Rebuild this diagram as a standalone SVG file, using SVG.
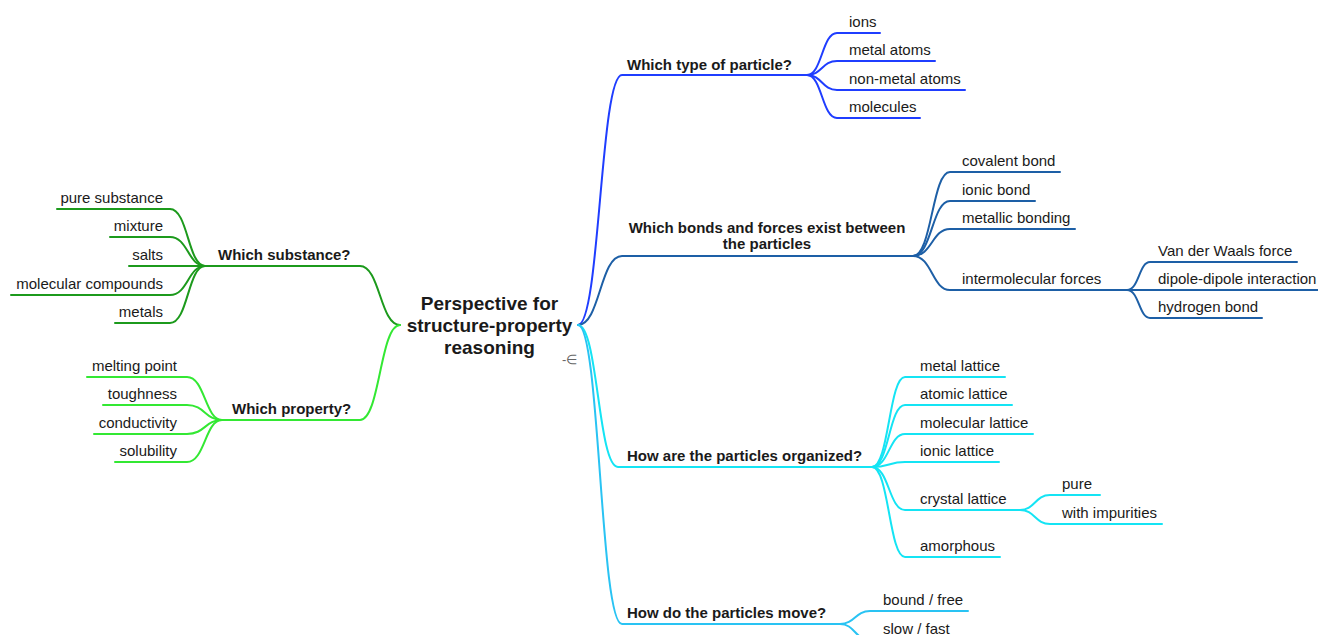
<svg xmlns="http://www.w3.org/2000/svg" width="1318" height="635" viewBox="0 0 1318 635">
<style>
.c{fill:none;stroke-width:2;stroke-linecap:round}
.t{stroke:#1f3dff}.b{stroke:#1d5fa6}.l{stroke:#14e4f4}.m{stroke:#29c3f3}.s{stroke:#1c9a1c}.p{stroke:#33e833}
text{font-family:"Liberation Sans",Arial,sans-serif;fill:#1a1a1a;font-size:15px}
.h{font-weight:bold}
.r{font-weight:bold;font-size:19px;text-anchor:middle}
.e{text-anchor:end}
</style>
<rect width="1318" height="635" fill="#ffffff"/>
<g id="connectors">
<path class="c t" d="M578,325 C600,325 600,75 622,75 H807"/>
<path class="c t" d="M807,75 C822,75 822,33 837,33 H880"/>
<path class="c t" d="M807,75 C822,75 822,61 837,61 H935"/>
<path class="c t" d="M807,75 C822,75 822,90 837,90 H965"/>
<path class="c t" d="M807,75 C822,75 822,118 837,118 H920"/>
<path class="c b" d="M578,325 C600,325 600,256 622,256 H913"/>
<path class="c b" d="M913,256 C932,256 932,172 950,172 H1060"/>
<path class="c b" d="M913,256 C932,256 932,201 950,201 H1035"/>
<path class="c b" d="M913,256 C932,256 932,229 950,229 H1075"/>
<path class="c b" d="M913,256 C932,256 932,290 950,290 H1127"/>
<path class="c b" d="M1127,290 C1139,290 1139,262 1150,262 H1297"/>
<path class="c b" d="M1127,290 H1320"/>
<path class="c b" d="M1127,290 C1139,290 1139,318 1150,318 H1262"/>
<path class="c l" d="M578,325 C598,325 598,467 618,467 H872"/>
<path class="c l" d="M872,467 C889,467 889,377 905,377 H1005"/>
<path class="c l" d="M872,467 C889,467 889,405 905,405 H1012"/>
<path class="c l" d="M872,467 C889,467 889,434 905,434 H1033"/>
<path class="c l" d="M872,467 C889,467 889,462 905,462 H999"/>
<path class="c l" d="M872,467 C889,467 889,510 905,510 H1020"/>
<path class="c l" d="M872,467 C889,467 889,557 905,557 H1000"/>
<path class="c l" d="M1020,510 C1035,510 1035,495 1050,495 H1100"/>
<path class="c l" d="M1020,510 C1035,510 1035,524 1050,524 H1162"/>
<path class="c m" d="M578,325 C600,325 600,624 622,624 H840"/>
<path class="c m" d="M840,624 C855,624 855,611 870,611 H968"/>
<path class="c m" d="M840,624 C855,624 855,640 870,640 H960"/>
<path class="c s" d="M400,325 C380,325 380,266 360,266 H205"/>
<path class="c s" d="M205,266 C188,266 188,209 170,209 H57"/>
<path class="c s" d="M205,266 C188,266 188,237 170,237 H110"/>
<path class="c s" d="M205,266 H129"/>
<path class="c s" d="M205,266 C188,266 188,295 170,295 H11"/>
<path class="c s" d="M205,266 C188,266 188,323 170,323 H115"/>
<path class="c p" d="M400,325 C380,325 380,420 360,420 H222"/>
<path class="c p" d="M222,420 C205,420 205,377 187,377 H87"/>
<path class="c p" d="M222,420 C205,420 205,405 187,405 H103"/>
<path class="c p" d="M222,420 C205,420 205,434 187,434 H94"/>
<path class="c p" d="M222,420 C205,420 205,462 187,462 H115"/>
</g>
<g id="root">
<text class="r" x="489.5" y="310">Perspective for</text>
<text class="r" x="489.5" y="332">structure-property</text>
<text class="r" x="489.5" y="354">reasoning</text>
<text x="562" y="364" style="font-size:13px;fill:#666">-∈</text>
</g>
<g id="type"><text class="h" x="627" y="70">Which type of particle?</text></g>
<g id="ions"><text x="849" y="27">ions</text></g>
<g id="metal-atoms"><text x="849" y="55">metal atoms</text></g>
<g id="non-metal-atoms"><text x="849" y="84">non-metal atoms</text></g>
<g id="molecules"><text x="849" y="112">molecules</text></g>
<g id="bonds"><text class="h" x="767" y="233" text-anchor="middle">Which bonds and forces exist between</text><text class="h" x="767" y="249" text-anchor="middle">the particles</text></g>
<g id="covalent"><text x="962" y="166">covalent bond</text></g>
<g id="ionic-bond"><text x="962" y="195">ionic bond</text></g>
<g id="metallic"><text x="962" y="223">metallic bonding</text></g>
<g id="intermolecular"><text x="962" y="284">intermolecular forces</text></g>
<g id="vdw"><text x="1158" y="256">Van der Waals force</text></g>
<g id="dipole"><text x="1158" y="284">dipole-dipole interaction</text></g>
<g id="hbond"><text x="1158" y="312">hydrogen bond</text></g>
<g id="organized"><text class="h" x="627" y="461">How are the particles organized?</text></g>
<g id="metal-lattice"><text x="920" y="371">metal lattice</text></g>
<g id="atomic-lattice"><text x="920" y="399">atomic lattice</text></g>
<g id="molecular-lattice"><text x="920" y="428">molecular lattice</text></g>
<g id="ionic-lattice"><text x="920" y="456">ionic lattice</text></g>
<g id="crystal-lattice"><text x="920" y="504">crystal lattice</text></g>
<g id="pure"><text x="1062" y="489">pure</text></g>
<g id="impurities"><text x="1062" y="518">with impurities</text></g>
<g id="amorphous"><text x="920" y="551">amorphous</text></g>
<g id="move"><text class="h" x="627" y="618">How do the particles move?</text></g>
<g id="bound"><text x="883" y="605">bound / free</text></g>
<g id="slow"><text x="883" y="634">slow / fast</text></g>
<g id="substance"><text class="h" x="218" y="260">Which substance?</text></g>
<g id="pure-substance"><text class="e" x="163" y="203">pure substance</text></g>
<g id="mixture"><text class="e" x="163" y="231">mixture</text></g>
<g id="salts"><text class="e" x="163" y="260">salts</text></g>
<g id="molecular-compounds"><text class="e" x="163" y="289">molecular compounds</text></g>
<g id="metals"><text class="e" x="163" y="317">metals</text></g>
<g id="property"><text class="h" x="232" y="414">Which property?</text></g>
<g id="melting"><text class="e" x="177" y="371">melting point</text></g>
<g id="toughness"><text class="e" x="177" y="399">toughness</text></g>
<g id="conductivity"><text class="e" x="177" y="428">conductivity</text></g>
<g id="solubility"><text class="e" x="177" y="456">solubility</text></g>
</svg>
